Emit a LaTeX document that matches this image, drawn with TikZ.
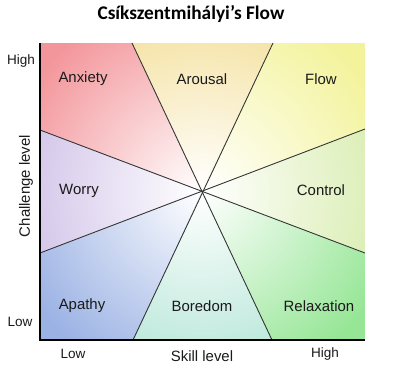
\documentclass[tikz,border=0pt]{standalone}
\usepackage{fontspec}
\setmainfont{Liberation Sans}
\newfontfamily\titlefont{Carlito}
\definecolor{cAnx}{RGB}{243,150,155}
\definecolor{cAro}{RGB}{243,222,150}
\definecolor{cFlow}{RGB}{243,243,155}
\definecolor{cCtrl}{RGB}{215,236,172}
\definecolor{cRel}{RGB}{150,230,150}
\definecolor{cBor}{RGB}{176,228,212}
\definecolor{cApa}{RGB}{155,178,228}
\definecolor{cWor}{RGB}{206,191,231}
\definecolor{txt}{RGB}{26,26,26}
\begin{document}
\begin{tikzpicture}[x=0.02cm,y=-0.02cm,
  lbl/.style={text=txt,font=\fontsize{8.5pt}{10pt}\selectfont,inner sep=0pt},
  axlbl/.style={text=txt,font=\fontsize{7.7pt}{9pt}\selectfont,inner sep=0pt},
  divider/.style={draw=black!80,line width=0.5pt},
  axisline/.style={draw=black,line width=0.9pt}]
\useasboundingbox (0,0) rectangle (400,380);
\fill[white] (0,0) rectangle (400,380);
\coordinate (C) at (202,191.5);
\coordinate (T1) at (132,43);
\coordinate (T2) at (273,43);
\coordinate (B1) at (133,340);
\coordinate (B2) at (272,340);
\coordinate (L1) at (40,130);
\coordinate (L2) at (40,253);
\coordinate (R1) at (365,129);
\coordinate (R2) at (365,253);
\coordinate (TL) at (40,43);
\coordinate (TR) at (365,43);
\coordinate (BL) at (40,340);
\coordinate (BR) at (365,340);
% wedges
\foreach \col/\pts in {cAnx/{(L1)--(TL)--(T1)},cAro/{(T1)--(T2)},cFlow/{(T2)--(TR)--(R1)},cCtrl/{(R1)--(R2)},cRel/{(R2)--(BR)--(B2)},cBor/{(B2)--(B1)},cApa/{(B1)--(BL)--(L2)},cWor/{(L2)--(L1)}}{
  \begin{scope}
    \clip (C) -- \pts -- cycle;
    \fill[\col] (0,0) rectangle (400,380);
    \shade[inner color=white,outer color=\col] (C) circle[radius=200];
  \end{scope}
}
% dividers
\draw[divider] (T1) -- (B2);
\draw[divider] (T2) -- (B1);
\draw[divider] (L1) -- (R2);
\draw[divider] (L2) -- (R1);
% axes
\draw[axisline] (TL) -- (BL) -- (BR);
% title
\node[inner sep=0pt,text=black,font=\titlefont\bfseries\fontsize{11pt}{13pt}\selectfont] (title) at (191,14) {Csíkszentmihályi’s Flow};
% region labels
\node[lbl] (anx) at (83,79) {Anxiety};
\node[lbl] (aro) at (202,79) {Arousal};
\node[lbl] (flow) at (321,79) {Flow};
\node[lbl] (wor) at (79,191) {Worry};
\node[lbl] (ctrl) at (321,190) {Control};
\node[lbl] (apa) at (82,306) {Apathy};
\node[lbl] (bor) at (202,306) {Boredom};
\node[lbl] (rel) at (319,306) {Relaxation};
% axis labels
\node[axlbl] (yhigh) at (21,61) {High};
\node[axlbl] (ylow) at (20,322) {Low};
\node[lbl,rotate=90] (ylab) at (26,186) {Challenge level};
\node[axlbl] (xlow) at (73,354) {Low};
\node[lbl] (xlab) at (202,356) {Skill level};
\node[axlbl] (xhigh) at (325,354) {High};
\end{tikzpicture}
\end{document}
